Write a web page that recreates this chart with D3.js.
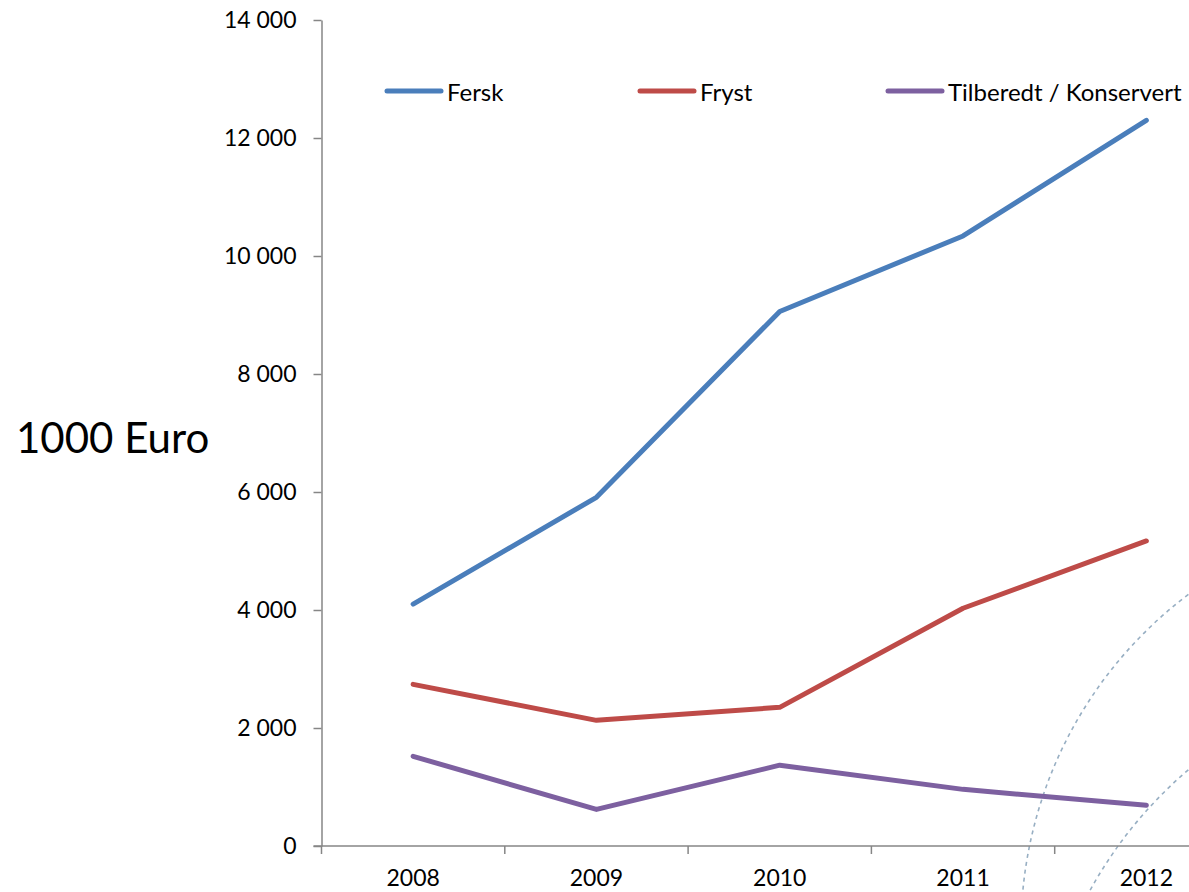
<!DOCTYPE html>
<html>
<head>
<meta charset="utf-8">
<script src="https://cdn.jsdelivr.net/npm/d3@7"></script>
<style>
  body { margin: 0; background: #fff; }
  svg { display: block; font-family: Lato, "Open Sans", sans-serif; }
</style>
</head>
<body>
<script>
// data
let years = ['2008', '2009', '2010', '2011', '2012'];
let fersk = [4100, 5910, 9060, 10340, 12300];
let fryst = [2740, 2130, 2350, 4030, 5170];
let tilberedt = [1520, 620, 1370, 960, 690];
let seriesNames = ['Fersk', 'Fryst', 'Tilberedt / Konservert'];
let yTicks = [0, 2000, 4000, 6000, 8000, 10000, 12000, 14000];

let width = 1189;
let height = 892;

let series = [
  { name: seriesNames[0], values: fersk, color: '#4a7ebb' },
  { name: seriesNames[1], values: fryst, color: '#be4b48' },
  { name: seriesNames[2], values: tilberedt, color: '#7d60a0' }
];

let svg = d3.select('body')
  .append('svg')
  .attr('width', width)
  .attr('height', height);

let x = d3.scaleBand()
  .domain(years)
  .range([321.5, 1238])
  .padding(0);

let y = d3.scaleLinear()
  .domain([0, 14000])
  .range([846, 20]);

let fmt = d3.formatLocale({ decimal: ',', thousands: ' ', grouping: [3], currency: ['', ''] }).format(',d');

let axisColor = '#868686';

// decorative dashed arcs in lower right corner (slide background)
let decor = svg.append('g');
[[1441, 930, 420, -3.35, -1.9], [1470, 1100, 434, -2.95, -1.9]].forEach((a) => {
  let p = d3.path();
  p.arc(a[0], a[1], a[2], a[3], a[4]);
  decor.append('path')
    .attr('d', p.toString())
    .attr('fill', 'none')
    .attr('stroke', '#98afc3')
    .attr('stroke-width', 1.6)
    .attr('stroke-dasharray', '4,4');
});

// y axis
let yAxis = svg.append('g')
  .attr('transform', 'translate(321.5, 0)')
  .call(d3.axisLeft(y).tickValues(yTicks).tickFormat(fmt).tickSize(8).tickPadding(17).tickSizeOuter(0));

yAxis.select('.domain').attr('stroke', axisColor).attr('stroke-width', 1.5);
yAxis.selectAll('.tick line').attr('stroke', axisColor).attr('stroke-width', 1.5);
yAxis.selectAll('.tick text')
  .attr('font-size', 23)
  .attr('fill', '#000')
  .attr('font-family', 'Lato, sans-serif');

// y axis continues down past the x axis like a tick
svg.append('line')
  .attr('x1', 321.5).attr('x2', 321.5)
  .attr('y1', 846).attr('y2', 854)
  .attr('stroke', axisColor).attr('stroke-width', 1.5);

// x axis
let xAxis = svg.append('g')
  .attr('transform', 'translate(0, 846)')
  .call(d3.axisBottom(x).tickSize(0).tickPadding(24).tickSizeOuter(0));

xAxis.select('.domain').remove();
xAxis.selectAll('.tick text')
  .attr('font-size', 23)
  .attr('fill', '#000')
  .attr('font-family', 'Lato, sans-serif');

xAxis.append('line')
  .attr('x1', x.range()[0] - 8).attr('x2', width)
  .attr('y1', 0).attr('y2', 0)
  .attr('stroke', axisColor).attr('stroke-width', 1.5);

xAxis.selectAll('.bound')
  .data(years.slice(1))
  .enter()
  .append('line')
  .attr('class', 'bound')
  .attr('x1', (d) => { return x(d); })
  .attr('x2', (d) => { return x(d); })
  .attr('y1', 0).attr('y2', 8)
  .attr('stroke', axisColor).attr('stroke-width', 1.5);

// y title
svg.append('text')
  .attr('x', 16)
  .attr('y', 437)
  .attr('dominant-baseline', 'central')
  .attr('font-size', 42)
  .attr('fill', '#000')
  .text('1000 Euro');

// lines
let line = d3.line()
  .x((d, i) => { return x(years[i]) + x.bandwidth() / 2; })
  .y((d) => { return y(d); });

svg.selectAll('.series')
  .data(series)
  .enter()
  .append('path')
  .attr('class', 'series')
  .attr('d', (d) => { return line(d.values); })
  .attr('fill', 'none')
  .attr('stroke', (d) => { return d.color; })
  .attr('stroke-width', 5)
  .attr('stroke-linejoin', 'round')
  .attr('stroke-linecap', 'round');

// legend
let legendX = [387, 640, 888];
let legend = svg.selectAll('.legend')
  .data(series)
  .enter()
  .append('g')
  .attr('class', 'legend')
  .attr('transform', (d, i) => { return 'translate(' + legendX[i] + ', 91)'; });

legend.append('line')
  .attr('x1', 0).attr('x2', 54)
  .attr('y1', 0).attr('y2', 0)
  .attr('stroke', (d) => { return d.color; })
  .attr('stroke-width', 5)
  .attr('stroke-linecap', 'round');

legend.append('text')
  .attr('x', 60)
  .attr('y', 0)
  .attr('dominant-baseline', 'central')
  .attr('font-size', 24)
  .attr('fill', '#000')
  .text((d) => { return d.name; });
</script>
</body>
</html>
